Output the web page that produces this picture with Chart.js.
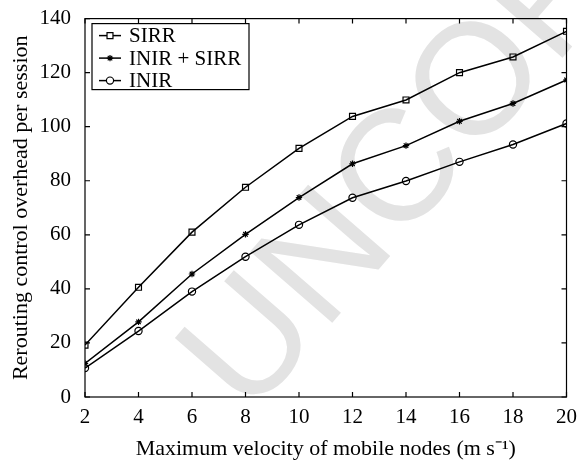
<!DOCTYPE html>
<html>
<head>
<meta charset="utf-8">
<script src="https://cdn.jsdelivr.net/npm/chart.js@4/dist/chart.umd.min.js"></script>
<style>
  html, body { margin: 0; padding: 0; background: #fff; }
  #wrap { width: 577px; height: 466px; position: relative; }
</style>
</head>
<body>
<div id="wrap"><canvas id="overheadChart"></canvas></div>
<script>
// max velocity (m/s) vs rerouting overhead per session
const velocity = [2, 4, 6, 8, 10, 12, 14, 16, 18, 20];
const sirr     = [19.2, 40.6, 61.0, 77.6, 92.0, 103.8, 109.9, 120.0, 125.8, 135.3];
const inirSirr = [12.4, 27.8, 45.5, 60.2, 73.8, 86.3, 93.0, 102.0, 108.6, 117.3];
const inir     = [10.7, 24.4, 39.0, 51.9, 63.7, 73.7, 79.9, 87.0, 93.4, 101.2];
const seriesNames = ["SIRR", "INIR + SIRR", "INIR"];
const xTitle = "Maximum velocity of mobile nodes (m s\u207B\u00B9)";
const yTitle = "Rerouting control overhead per session";
const stampText = "UNCORRECTED PROOF";

const SERIF = "'Liberation Serif', 'Times New Roman', serif";

function pts(ys) {
  return ys.map((y, i) => ({x: velocity[i], y: y}));
}

function series(label, ys, style, r) {
  return {
    label: label,
    data: pts(ys),
    borderColor: "#000",
    backgroundColor: "rgba(0,0,0,0)",
    borderWidth: 1.5,
    pointStyle: style,
    pointRadius: r,
    pointBorderWidth: 1.2,
    pointBorderColor: "#000",
    pointBackgroundColor: "rgba(0,0,0,0)",
    tension: 0
  };
}

// light diagonal stamp behind everything
const stamp = {
  id: "stamp",
  beforeDraw(chart) {
    const ctx = chart.ctx;
    ctx.save();
    ctx.translate(216, 390);
    ctx.rotate(-49 * Math.PI / 180);
    ctx.font = "158px 'Liberation Sans', Arial, sans-serif";
    ctx.fillStyle = "#e3e3e3";
    ctx.textAlign = "left";
    ctx.textBaseline = "middle";
    ctx.fillText(stampText, 0, 0);
    ctx.restore();
  }
};

// closed box with inward ticks on all four sides
const frame = {
  id: "frame",
  afterDraw(chart) {
    const {ctx, chartArea: a, scales} = chart;
    ctx.save();
    ctx.strokeStyle = "#000";
    ctx.lineWidth = 1.2;
    ctx.strokeRect(a.left, a.top, a.right - a.left, a.bottom - a.top);
    const len = 5;
    ctx.beginPath();
    scales.x.ticks.forEach(t => {
      const px = scales.x.getPixelForValue(t.value);
      ctx.moveTo(px, a.bottom); ctx.lineTo(px, a.bottom - len);
      ctx.moveTo(px, a.top); ctx.lineTo(px, a.top + len);
    });
    scales.y.ticks.forEach(t => {
      const py = scales.y.getPixelForValue(t.value);
      ctx.moveTo(a.left, py); ctx.lineTo(a.left + len, py);
      ctx.moveTo(a.right, py); ctx.lineTo(a.right - len, py);
    });
    ctx.stroke();
    ctx.restore();
  }
};

// legend box in the upper left corner of the plot
const boxLegend = {
  id: "boxLegend",
  afterDraw(chart) {
    const {ctx, chartArea: a} = chart;
    const x0 = a.left + 7, y0 = a.top + 5, w = 157, rowH = 22.5, h = 66;
    ctx.save();
    ctx.fillStyle = "#fff";
    ctx.fillRect(x0, y0, w, h);
    ctx.strokeStyle = "#000";
    ctx.lineWidth = 1.2;
    ctx.strokeRect(x0, y0, w, h);
    ctx.font = "21px " + SERIF;
    ctx.textBaseline = "middle";
    ctx.textAlign = "left";
    chart.data.datasets.forEach((ds, i) => {
      const cy = y0 + 12 + i * rowH;
      ctx.strokeStyle = "#000";
      ctx.lineWidth = 1.5;
      ctx.beginPath();
      ctx.moveTo(x0 + 7, cy); ctx.lineTo(x0 + 29, cy);
      ctx.stroke();
      ctx.lineWidth = ds.pointBorderWidth;
      ctx.fillStyle = "#fff";
      Chart.helpers.drawPoint(ctx, {pointStyle: ds.pointStyle, radius: ds.pointRadius, rotation: 0, borderWidth: ds.pointBorderWidth}, x0 + 18, cy);
      ctx.fillStyle = "#000";
      ctx.fillText(ds.label, x0 + 37, cy + 1);
    });
    ctx.restore();
  }
};

new Chart(document.getElementById("overheadChart"), {
  type: "line",
  data: {
    datasets: [
      series(seriesNames[0], sirr, "rect", 4.2),
      series(seriesNames[1], inirSirr, "star", 3.2),
      series(seriesNames[2], inir, "circle", 3.6)
    ]
  },
  options: {
    responsive: true,
    maintainAspectRatio: false,
    animation: false,
    events: [],
    layout: {padding: {top: 13, right: 9, left: 0, bottom: 0}},
    plugins: {legend: {display: false}, tooltip: {enabled: false}},
    scales: {
      x: {
        type: "linear",
        min: 2, max: 20,
        grid: {display: false},
        border: {display: false},
        ticks: {stepSize: 2, color: "#000", font: {family: SERIF, size: 21}, padding: 0, maxRotation: 0},
        title: {display: true, text: xTitle, color: "#000", font: {family: SERIF, size: 22}, padding: {top: 4, bottom: 4}},
        afterFit(s) { s.height = 69; }
      },
      y: {
        min: 0, max: 140,
        grid: {display: false},
        border: {display: false},
        ticks: {stepSize: 20, color: "#000", font: {family: SERIF, size: 21}, padding: 6},
        title: {display: true, text: yTitle, color: "#000", font: {family: SERIF, size: 22}, padding: {top: 8, bottom: 0}},
        afterFit(s) { s.width = 85; }
      }
    }
  },
  plugins: [stamp, frame, boxLegend]
});
</script>
</body>
</html>
